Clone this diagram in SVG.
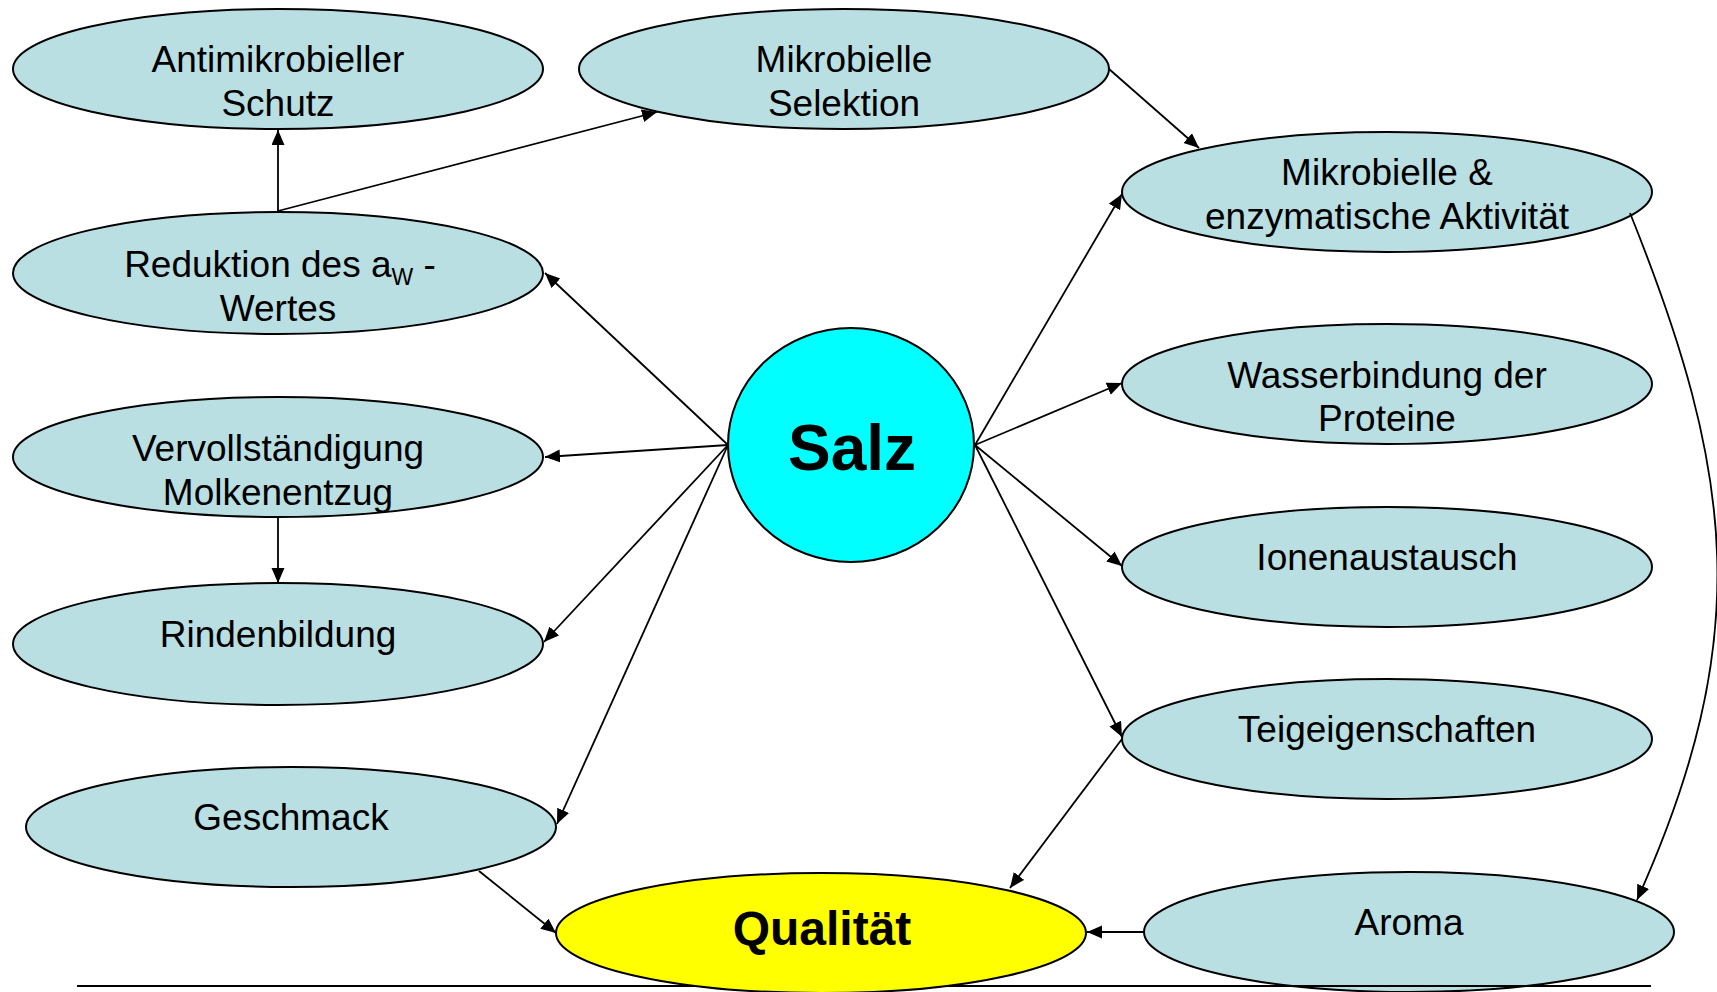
<svg xmlns="http://www.w3.org/2000/svg" width="1717" height="992" viewBox="0 0 1717 992">
  <style>
    .node { fill: #B9DFE3; stroke: #000; stroke-width: 2; }
    .salz { fill: #00FFFF; stroke: #000; stroke-width: 2; }
    .quali { fill: #FFFF00; stroke: #000; stroke-width: 2; }
    .lbl { font-family: "Liberation Sans", Arial, sans-serif; font-size: 37px; fill: #000; text-anchor: middle; }
    .big { font-family: "Liberation Sans", Arial, sans-serif; font-weight: bold; fill: #000; text-anchor: middle; }
    .edge { fill: none; stroke: #000; stroke-width: 1.8; marker-end: url(#arrow); }
    .rule { stroke: #000; stroke-width: 2.2; }
  </style>
  <defs>
    <marker id="arrow" markerUnits="userSpaceOnUse" markerWidth="16" markerHeight="14" refX="15" refY="6.5" orient="auto">
      <path d="M0,0 L15,6.5 L0,13 z" fill="#000"/>
    </marker>
  </defs>

  <rect x="0" y="0" width="1717" height="992" fill="#fff"/>

  <g id="n-antimikrobiell">
    <ellipse class="node" cx="278" cy="69" rx="265" ry="60"/>
    <text class="lbl" x="278" y="72">Antimikrobieller</text>
    <text class="lbl" x="278" y="116">Schutz</text>
  </g>

  <g id="n-selektion">
    <ellipse class="node" cx="844" cy="69" rx="265" ry="60"/>
    <text class="lbl" x="844" y="72">Mikrobielle</text>
    <text class="lbl" x="844" y="116">Selektion</text>
  </g>

  <g id="n-aktivitaet">
    <ellipse class="node" cx="1387" cy="192" rx="265" ry="60"/>
    <text class="lbl" x="1387" y="185">Mikrobielle &amp;</text>
    <text class="lbl" x="1387" y="229">enzymatische Aktivität</text>
  </g>

  <g id="n-reduktion">
    <ellipse class="node" cx="278" cy="273" rx="265" ry="61"/>
    <text class="lbl" x="280" y="277">Reduktion des a<tspan font-size="23" dy="8">W</tspan><tspan dy="-8"> -</tspan></text>
    <text class="lbl" x="278" y="321">Wertes</text>
  </g>

  <g id="n-wasserbindung">
    <ellipse class="node" cx="1387" cy="384" rx="265" ry="60"/>
    <text class="lbl" x="1387" y="388">Wasserbindung der</text>
    <text class="lbl" x="1387" y="431">Proteine</text>
  </g>

  <g id="n-vervollstaendigung">
    <ellipse class="node" cx="278" cy="457" rx="265" ry="60"/>
    <text class="lbl" x="278" y="461">Vervollständigung</text>
    <text class="lbl" x="278" y="505">Molkenentzug</text>
  </g>

  <g id="n-salz">
    <ellipse class="salz" cx="851" cy="445" rx="123" ry="117"/>
    <text class="big" x="852" y="470" font-size="64">Salz</text>
  </g>

  <g id="n-ionenaustausch">
    <ellipse class="node" cx="1387" cy="567" rx="265" ry="60"/>
    <text class="lbl" x="1387" y="570">Ionenaustausch</text>
  </g>

  <g id="n-rindenbildung">
    <ellipse class="node" cx="278" cy="644" rx="265" ry="61"/>
    <text class="lbl" x="278" y="647">Rindenbildung</text>
  </g>

  <g id="n-teig">
    <ellipse class="node" cx="1387" cy="739" rx="265" ry="60"/>
    <text class="lbl" x="1387" y="742">Teigeigenschaften</text>
  </g>

  <g id="n-geschmack">
    <ellipse class="node" cx="291" cy="827" rx="265" ry="60"/>
    <text class="lbl" x="291" y="830">Geschmack</text>
  </g>

  <g id="n-aroma">
    <ellipse class="node" cx="1409" cy="932" rx="265" ry="60"/>
    <text class="lbl" x="1409" y="935">Aroma</text>
  </g>

  <!-- bottom rule, passes behind the yellow node -->
  <line class="rule" x1="77" y1="986" x2="1651" y2="986"/>

  <g id="n-qualitaet">
    <ellipse class="quali" cx="821" cy="933" rx="265" ry="60"/>
    <text class="big" x="822" y="945" font-size="48">Qualität</text>
  </g>

  <g id="connectors">
    <line class="edge" x1="278" y1="211" x2="278" y2="130"/>
    <line class="edge" x1="278" y1="211" x2="657" y2="112"/>
    <line class="edge" x1="1109" y1="69" x2="1199" y2="148"/>
    <line class="edge" x1="728" y1="445" x2="545" y2="273"/>
    <line class="edge" x1="728" y1="445" x2="545" y2="457"/>
    <line class="edge" x1="728" y1="445" x2="544" y2="642"/>
    <line class="edge" x1="728" y1="445" x2="557" y2="824"/>
    <line class="edge" x1="975" y1="445" x2="1122" y2="194"/>
    <line class="edge" x1="975" y1="445" x2="1122" y2="383"/>
    <line class="edge" x1="975" y1="445" x2="1122" y2="566"/>
    <line class="edge" x1="975" y1="445" x2="1122" y2="737"/>
    <line class="edge" x1="1122" y1="739" x2="1010" y2="888"/>
    <path class="edge" d="M1630,213 C1735,474 1755,638 1637,900"/>
    <line class="edge" x1="1144" y1="932" x2="1087" y2="932"/>
    <line class="edge" x1="479" y1="871" x2="556" y2="933"/>
    <line class="edge" x1="278" y1="518" x2="278" y2="583"/>
  </g>
</svg>
